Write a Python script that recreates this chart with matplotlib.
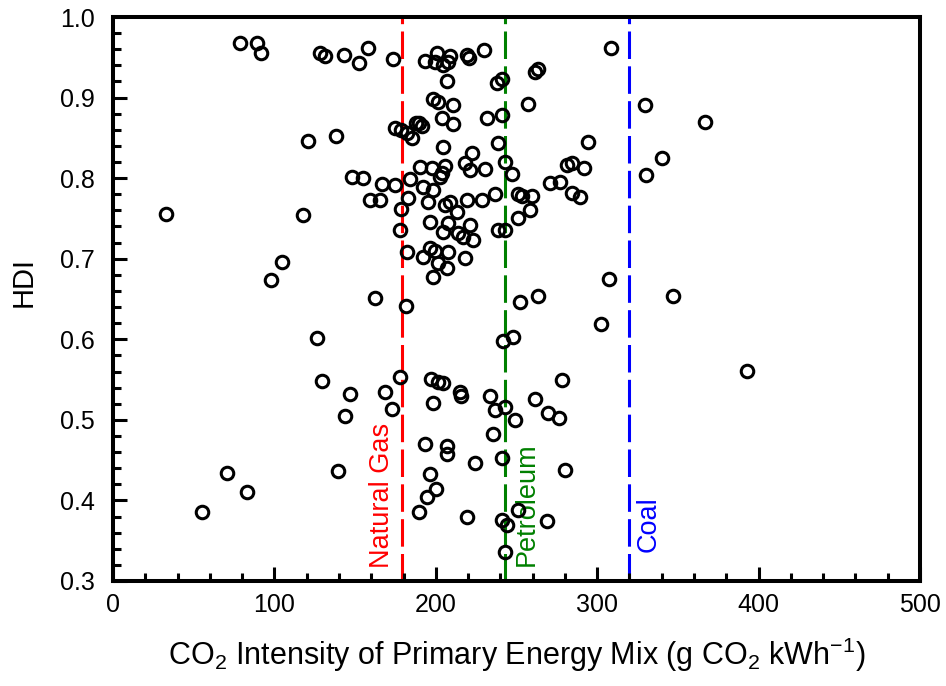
import matplotlib
matplotlib.use("Agg")
import matplotlib.pyplot as plt
from matplotlib.ticker import MultipleLocator

base = 'Liberation Sans'
plt.rcParams['font.family'] = [base, 'DejaVu Sans']
plt.rcParams['mathtext.fontset'] = 'custom'
plt.rcParams['mathtext.rm'] = base
plt.rcParams['mathtext.it'] = base + ':italic'
plt.rcParams['mathtext.bf'] = base + ':bold'

# CO2 intensity of primary energy mix (g CO2 / kWh)
co2_intensity = [
    78.7, 89.2, 91.7, 128.3, 131.4, 143.1, 152.4, 158.0, 173.5, 193.3,
    200.7, 199.5, 204.5, 208.8, 207.6, 219.3, 220.6, 229.9, 308.6, 206.9,
    237.9, 241.0, 261.5, 263.3, 198.3, 201.4, 210.7, 257.1, 329.6, 203.8,
    210.7, 231.7, 241.0, 366.8, 138.2, 120.8, 174.7, 178.4, 182.2, 185.3,
    187.7, 189.6, 191.4, 204.5, 238.5, 294.3, 340.1, 330.2, 190.2, 197.6,
    205.7, 203.8, 202.6, 218.1, 222.4, 221.2, 230.5, 242.9, 247.2, 148.1,
    154.9, 166.7, 174.7, 184.0, 281.3, 284.4, 291.8, 270.8, 277.0, 159.2,
    165.4, 182.8, 178.4, 192.1, 195.2, 198.3, 205.7, 208.8, 213.1, 219.3,
    228.6, 236.7, 250.9, 253.4, 259.6, 258.4, 250.9, 284.4, 289.3, 32.8,
    117.7, 196.4, 204.5, 207.6, 213.8, 216.9, 221.2, 223.0, 238.5, 242.9,
    177.8, 182.2, 192.1, 196.4, 199.5, 207.6, 218.1, 201.4, 206.9, 198.3,
    104.7, 97.9, 307.3, 347.0, 162.3, 181.5, 252.2, 263.3, 302.4, 126.4,
    241.6, 247.8, 392.8, 129.5, 177.8, 197.0, 201.4, 204.5, 215.0, 215.6,
    233.6, 278.2, 146.8, 168.5, 172.9, 143.7, 198.3, 242.9, 236.7, 249.1,
    261.5, 269.5, 276.3, 193.3, 206.9, 206.9, 235.4, 241.0, 224.3, 280.0,
    139.4, 70.6, 196.4, 200.1, 194.5, 83.0, 55.1, 189.6, 219.3, 241.0,
    244.1, 250.9, 268.9, 242.9,
]

# Human Development Index
hdi = [
    0.968, 0.968, 0.955, 0.955, 0.952, 0.953, 0.943, 0.962, 0.948, 0.945,
    0.955, 0.944, 0.940, 0.952, 0.944, 0.953, 0.949, 0.959, 0.962, 0.921,
    0.918, 0.923, 0.932, 0.935, 0.898, 0.895, 0.891, 0.892, 0.891, 0.875,
    0.867, 0.875, 0.878, 0.870, 0.852, 0.846, 0.862, 0.860, 0.856, 0.850,
    0.868, 0.868, 0.865, 0.839, 0.844, 0.845, 0.825, 0.804, 0.814, 0.813,
    0.815, 0.806, 0.801, 0.819, 0.831, 0.810, 0.811, 0.820, 0.805, 0.801,
    0.800, 0.793, 0.792, 0.799, 0.816, 0.819, 0.813, 0.794, 0.795, 0.773,
    0.773, 0.775, 0.762, 0.789, 0.770, 0.785, 0.767, 0.770, 0.758, 0.773,
    0.773, 0.780, 0.780, 0.778, 0.778, 0.761, 0.751, 0.782, 0.777, 0.756,
    0.754, 0.746, 0.733, 0.744, 0.732, 0.727, 0.742, 0.723, 0.736, 0.736,
    0.736, 0.708, 0.702, 0.713, 0.710, 0.708, 0.701, 0.695, 0.689, 0.677,
    0.696, 0.674, 0.675, 0.654, 0.651, 0.641, 0.646, 0.654, 0.619, 0.602,
    0.598, 0.603, 0.561, 0.548, 0.553, 0.551, 0.547, 0.546, 0.534, 0.530,
    0.529, 0.550, 0.532, 0.534, 0.514, 0.505, 0.521, 0.516, 0.512, 0.500,
    0.526, 0.509, 0.502, 0.470, 0.468, 0.457, 0.483, 0.453, 0.447, 0.438,
    0.437, 0.434, 0.433, 0.414, 0.404, 0.411, 0.385, 0.385, 0.380, 0.376,
    0.370, 0.388, 0.375, 0.336,
]

# Reference fuel intensities (vertical lines)
fuel_names = ["Natural Gas", "Petroleum", "Coal"]
fuel_intensity = [179, 243, 320]
fuel_colors = ["#ff0000", "#008000", "#0000ff"]
label_x = [166.7, 256.5, 332.1]
label_y = [0.316, 0.318, 0.336]

fig = plt.figure(figsize=(9.46, 6.86), dpi=100)
ax = fig.add_axes([0.1195, 0.1531, 0.9725 - 0.1195, 0.9752 - 0.1531])

for xv, c in zip(fuel_intensity, fuel_colors):
    ax.axvline(xv, color=c, lw=2.2, dashes=(9, 2.4), zorder=1)

ax.plot(co2_intensity, hdi, linestyle='none', marker='o', markersize=9.0,
        markerfacecolor='none', markeredgecolor='black', markeredgewidth=2.2,
        zorder=3)

for name, xv, yv, c in zip(fuel_names, label_x, label_y, fuel_colors):
    ax.text(xv, yv, name, color=c, rotation=90, ha='center', va='bottom',
            fontsize=19.5, zorder=2)

ax.set_xlim(0, 500)
ax.set_ylim(0.3, 1.0)
ax.xaxis.set_major_locator(MultipleLocator(100))
ax.xaxis.set_minor_locator(MultipleLocator(20))
ax.yaxis.set_major_locator(MultipleLocator(0.1))
ax.yaxis.set_minor_locator(MultipleLocator(0.02))
ax.yaxis.set_major_formatter(plt.FuncFormatter(lambda v, p: f"{v:.1f}"))

ax.tick_params(which='both', direction='in', top=False, right=False,
               labelsize=18, width=2.2)
ax.tick_params(which='major', length=10)
ax.tick_params(axis='x', which='major', pad=9)
ax.tick_params(axis='y', which='major', pad=13)
ax.tick_params(which='minor', length=6)
for s in ax.spines.values():
    s.set_linewidth(2.9)

ax.set_xlabel(r'CO$_2$ Intensity of Primary Energy Mix (g CO$_2$ kWh$^{-1}$)',
              fontsize=22, labelpad=13)
ax.set_ylabel('HDI', fontsize=21)
ax.yaxis.set_label_coords(-0.093, 0.53)

fig.savefig('out.png', dpi=100)
